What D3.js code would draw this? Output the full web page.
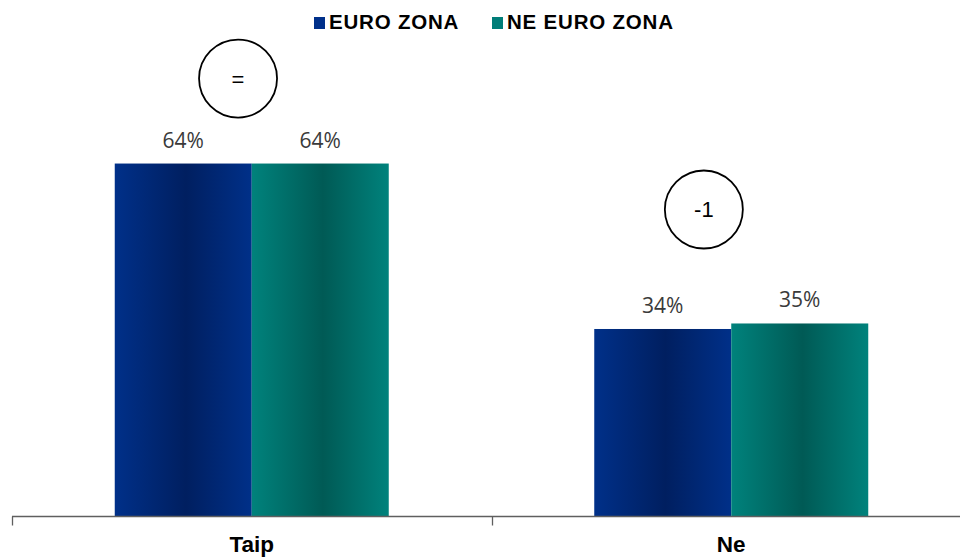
<!DOCTYPE html>
<html><head><meta charset="utf-8">
<script src="https://cdn.jsdelivr.net/npm/d3@7"></script>
<style>html,body{margin:0;padding:0;background:#fff;}</style>
</head><body>
<svg id="chart" width="960" height="559"></svg>
<script>
const categories = ["Taip", "Ne"];
const seriesNames = ["EURO ZONA", "NE EURO ZONA"];
const euroZona = [64, 34];
const neEuroZona = [64, 35];
const changeLabels = ["=", "-1"];
const seriesValues = [euroZona, neEuroZona];

const svg = d3.select("#chart");
const defs = svg.append("defs");
function grad(id, edge, mid){
  const g = defs.append("linearGradient").attr("id", id).attr("x1","0%").attr("x2","100%").attr("y1","0%").attr("y2","0%");
  g.append("stop").attr("offset","0%").attr("stop-color", edge);
  g.append("stop").attr("offset","52%").attr("stop-color", mid);
  g.append("stop").attr("offset","100%").attr("stop-color", edge);
}
grad("gBlue", "#003089", "#001f60");
grad("gTeal", "#00827c", "#005a55");
const fills = ["url(#gBlue)", "url(#gTeal)"];
const legendColors = ["#00308a", "#007d78"];

const x = d3.scaleBand().domain(categories).range([12, 971]).paddingInner(0).paddingOuter(0);
const xs = d3.scaleBand().domain(seriesNames).range([0, x.bandwidth()]).paddingInner(0).paddingOuter(0.75);
const y = d3.scaleLinear().domain([0, 100]).range([516.5, -35]);

// bars
categories.forEach((c, ci) => {
  seriesNames.forEach((s, si) => {
    const v = seriesValues[si][ci];
    svg.append("rect")
      .attr("x", x(c) + xs(s))
      .attr("y", y(v))
      .attr("width", xs.bandwidth())
      .attr("height", y(0) - y(v))
      .attr("fill", fills[si]);
    svg.append("text")
      .attr("x", x(c) + xs(s) + xs.bandwidth()/2)
      .attr("y", y(v) - 16)
      .attr("text-anchor", "middle")
      .attr("font-family", "Open Sans, sans-serif")
      .attr("font-size", 21)
      .attr("fill", "#3a3a3a")
      .text(v + "%");
  });
});

// change circles
const circleOffsetX = [0.9, 0.8];
const circleOffsetY = [85, 114];
categories.forEach((c, ci) => {
  const maxV = d3.max(seriesValues, sv => sv[ci]);
  const cx = x(c) + xs(seriesNames[0]) + xs.bandwidth()*circleOffsetX[ci];
  const cy = y(maxV) - circleOffsetY[ci];
  svg.append("circle").attr("cx", cx).attr("cy", cy).attr("r", 39)
    .attr("fill", "#fff").attr("stroke", "#000").attr("stroke-width", 1.8);
  svg.append("text").attr("x", cx).attr("y", cy + 8)
    .attr("text-anchor", "middle")
    .attr("font-family", "Liberation Sans, Arial, sans-serif")
    .attr("font-size", 22).attr("fill", "#000")
    .text(changeLabels[ci]);
});

// axis
const axis = svg.append("g").attr("transform", "translate(0,516.5)");
axis.append("line").attr("x1", 12).attr("x2", 971).attr("y1", 0).attr("y2", 0)
  .attr("stroke", "#5f5f5f").attr("stroke-width", 1.3);
const ticks = categories.map(c => x(c)).concat([x.range()[1]]);
ticks.forEach(t => {
  axis.append("line").attr("x1", Math.round(t)+0.5).attr("x2", Math.round(t)+0.5).attr("y1", 0).attr("y2", 9)
    .attr("stroke", "#5f5f5f").attr("stroke-width", 1.3);
});
categories.forEach(c => {
  svg.append("text").attr("x", x(c) + x.bandwidth()/2).attr("y", 552)
    .attr("text-anchor", "middle")
    .attr("font-family", "Liberation Sans, Arial, sans-serif")
    .attr("font-weight", "bold").attr("font-size", 22.5).attr("fill", "#000")
    .text(c);
});

// legend
const legendX = [314, 492];
seriesNames.forEach((s, i) => {
  svg.append("rect").attr("x", legendX[i]).attr("y", 17).attr("width", 11).attr("height", 12)
    .attr("fill", legendColors[i]);
  svg.append("text").attr("x", legendX[i] + 15).attr("y", 29)
    .attr("font-family", "Liberation Sans, Arial, sans-serif")
    .attr("font-weight", "bold").attr("font-size", 20.5).attr("fill", "#000")
    .attr("letter-spacing", 0.8)
    .text(s);
});
</script>
</body></html>
